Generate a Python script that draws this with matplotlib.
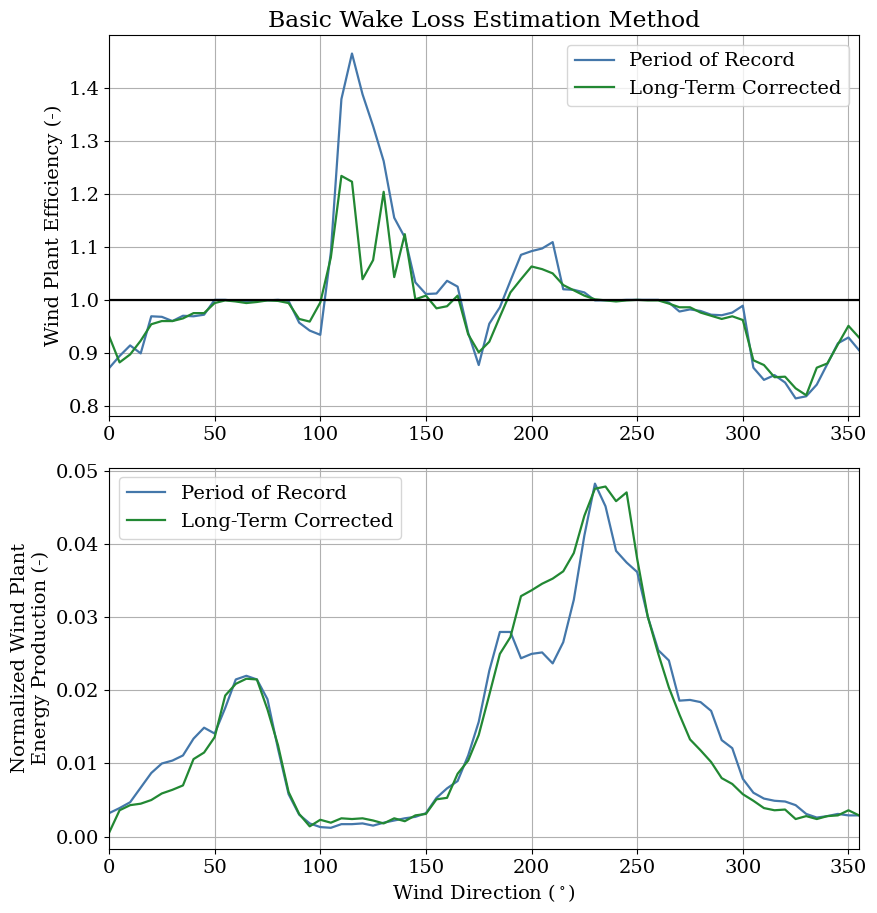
import matplotlib
matplotlib.use("Agg")
import matplotlib.pyplot as plt
import numpy as np

plt.rcParams['font.family'] = 'DejaVu Serif'
plt.rcParams['mathtext.fontset'] = 'dejavuserif'

# wind direction bins (deg)
wind_dir = np.arange(0, 360, 5)

# wind plant efficiency, period of record
eff_por = [0.871, 0.894, 0.914, 0.899, 0.969, 0.968, 0.960, 0.970, 0.969, 0.972,
           1.000, 1.000, 0.998, 0.997, 0.999, 0.999, 1.000, 0.998, 0.957, 0.942,
           0.934, 1.090, 1.379, 1.465, 1.388, 1.328, 1.262, 1.155, 1.118, 1.033,
           1.011, 1.012, 1.036, 1.025, 0.938, 0.877, 0.955, 0.986, 1.036, 1.085,
           1.092, 1.097, 1.109, 1.020, 1.019, 1.014, 0.999, 0.999, 0.999, 1.000,
           1.000, 1.000, 1.000, 0.995, 0.978, 0.982, 0.979, 0.972, 0.971, 0.976,
           0.989, 0.872, 0.849, 0.858, 0.844, 0.814, 0.818, 0.840, 0.879, 0.918,
           0.929, 0.905]

# wind plant efficiency, long-term corrected
eff_lt = [0.932, 0.882, 0.897, 0.923, 0.954, 0.960, 0.960, 0.965, 0.975, 0.975,
          0.994, 0.999, 0.997, 0.994, 0.996, 0.999, 0.998, 0.994, 0.964, 0.959,
          0.995, 1.080, 1.234, 1.223, 1.039, 1.075, 1.204, 1.043, 1.124, 1.001,
          1.008, 0.984, 0.988, 1.008, 0.935, 0.901, 0.921, 0.968, 1.014, 1.039,
          1.063, 1.058, 1.050, 1.028, 1.018, 1.008, 1.001, 0.999, 0.997, 0.999,
          1.000, 0.999, 0.999, 0.993, 0.986, 0.986, 0.976, 0.970, 0.964, 0.969,
          0.962, 0.886, 0.877, 0.854, 0.855, 0.833, 0.820, 0.872, 0.880, 0.916,
          0.951, 0.929]

# normalized energy production, period of record
energy_por = [0.0032, 0.0039, 0.0047, 0.0067, 0.0087, 0.0100, 0.0104, 0.0111, 0.0134, 0.0149,
              0.0141, 0.0176, 0.0215, 0.0220, 0.0215, 0.0188, 0.0120, 0.0058, 0.0030, 0.0018,
              0.0013, 0.0012, 0.0017, 0.0017, 0.0018, 0.0015, 0.0019, 0.0022, 0.0025, 0.0027,
              0.0032, 0.0053, 0.0066, 0.0076, 0.0111, 0.0157, 0.0227, 0.0280, 0.0280, 0.0244,
              0.0250, 0.0252, 0.0237, 0.0266, 0.0324, 0.0412, 0.0483, 0.0452, 0.0391, 0.0375,
              0.0362, 0.0301, 0.0255, 0.0241, 0.0186, 0.0187, 0.0184, 0.0172, 0.0132, 0.0121,
              0.0079, 0.0060, 0.0052, 0.0049, 0.0048, 0.0043, 0.0031, 0.0026, 0.0028, 0.0031,
              0.0029, 0.0029]

# normalized energy production, long-term corrected
energy_lt = [0.0005, 0.0036, 0.0043, 0.0045, 0.0050, 0.0059, 0.0064, 0.0070, 0.0106, 0.0115,
             0.0136, 0.0193, 0.0209, 0.0216, 0.0215, 0.0174, 0.0125, 0.0061, 0.0031, 0.0014,
             0.0023, 0.0019, 0.0025, 0.0024, 0.0025, 0.0022, 0.0018, 0.0025, 0.0021, 0.0029,
             0.0031, 0.0051, 0.0053, 0.0086, 0.0104, 0.0139, 0.0194, 0.0250, 0.0273, 0.0329,
             0.0337, 0.0346, 0.0353, 0.0363, 0.0388, 0.0439, 0.0476, 0.0479, 0.0459, 0.0471,
             0.0380, 0.0301, 0.0250, 0.0204, 0.0167, 0.0133, 0.0118, 0.0102, 0.0080, 0.0072,
             0.0058, 0.0049, 0.0039, 0.0036, 0.0037, 0.0024, 0.0028, 0.0024, 0.0028, 0.0029,
             0.0036, 0.0029]

c_por = '#4477AA'
c_lt = '#228833'

fig, (ax1, ax2) = plt.subplots(2, 1, figsize=(8.77, 9.13), dpi=100)
fig.subplots_adjust(left=0.1243, right=0.9795, top=0.9617, bottom=0.0701, hspace=0.134)

ax1.plot(wind_dir, eff_por, color=c_por, lw=1.6, label='Period of Record')
ax1.plot(wind_dir, eff_lt, color=c_lt, lw=1.6, label='Long-Term Corrected')
ax1.axhline(1.0, color='k', lw=1.6)
ax1.set_xlim(0, 355)
ax1.set_ylim(0.78, 1.5)
ax1.set_yticks([0.8, 0.9, 1.0, 1.1, 1.2, 1.3, 1.4])
ax1.grid(True)
ax1.set_ylabel('Wind Plant Efficiency (-)', fontsize=14)
ax1.set_title('Basic Wake Loss Estimation Method', fontsize=16.9)
ax1.legend(loc='upper right', fontsize=14)
ax1.tick_params(labelsize=14)

ax2.plot(wind_dir, energy_por, color=c_por, lw=1.6, label='Period of Record')
ax2.plot(wind_dir, energy_lt, color=c_lt, lw=1.6, label='Long-Term Corrected')
ax2.set_xlim(0, 355)
ax2.set_ylim(-0.0017, 0.0505)
ax2.grid(True)
ax2.set_xlabel(r'Wind Direction ($^\circ$)', fontsize=14)
ax2.set_ylabel('Normalized Wind Plant\nEnergy Production (-)', fontsize=14)
ax2.legend(loc='upper left', fontsize=14)
ax2.tick_params(labelsize=14)

plt.savefig('out.png')
